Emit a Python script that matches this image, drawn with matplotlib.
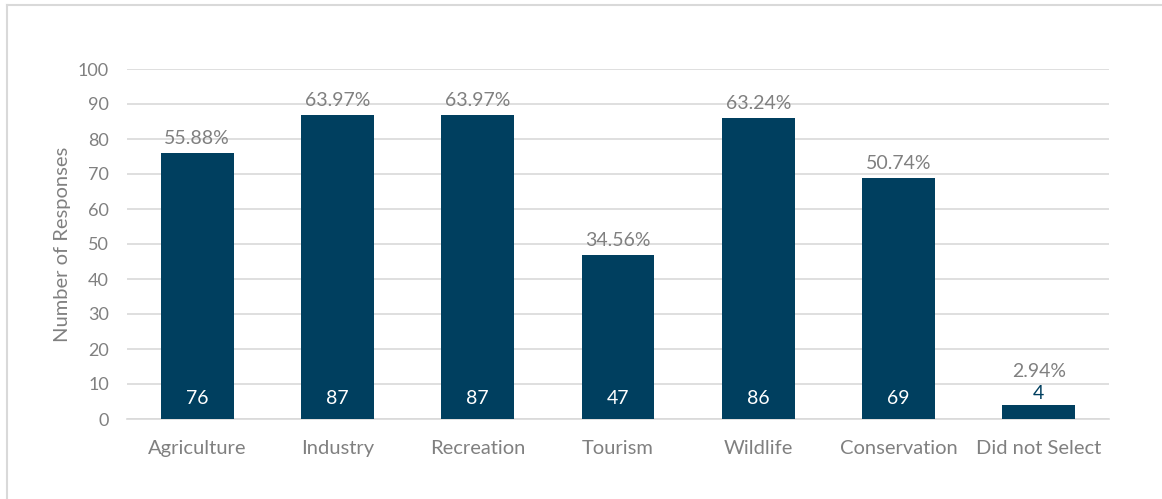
import matplotlib
matplotlib.use("Agg")
import matplotlib.pyplot as plt
from matplotlib.lines import Line2D

categories = ["Agriculture", "Industry", "Recreation", "Tourism", "Wildlife", "Conservation", "Did not Select"]
counts = [76, 87, 87, 47, 86, 69, 4]
percents = ["55.88%", "63.97%", "63.97%", "34.56%", "63.24%", "50.74%", "2.94%"]
yticks = list(range(0, 101, 10))

plt.rcParams['font.family'] = ['Lato', 'DejaVu Sans']

bar_color = "#003F5F"
gray = "#808080"
grid_color = "#D9D9D9"

fig = plt.figure(figsize=(11.62, 4.99), dpi=100)
ax = fig.add_axes([127/1162, 1-419/499, (1109-127)/1162, (419-69)/499])

x = list(range(len(categories)))
bars = ax.bar(x, counts, width=0.52, color=bar_color, zorder=3)
ax.set_xlim(-0.5, len(categories)-0.5)
ax.set_ylim(0, 100)
ax.set_yticks(yticks)
ax.yaxis.grid(True, color=grid_color, linewidth=1.2, zorder=0)
ax.set_axisbelow(True)
for s in ['top', 'right', 'left']:
    ax.spines[s].set_visible(False)
ax.spines['bottom'].set_color(grid_color)
ax.spines['bottom'].set_linewidth(1.2)
ax.tick_params(axis='both', length=0, colors=gray, labelsize=13)
ax.tick_params(axis='x', pad=15, labelsize=14.5)
ax.tick_params(axis='y', pad=13)
ax.set_xticks(x)
ax.set_xticklabels(categories)
ax.set_ylabel("Number of Responses", color=gray, fontsize=14.5, labelpad=5)

for xi, c, p in zip(x, counts, percents):
    if c >= 10:
        ax.text(xi, 6.0, str(c), ha='center', va='center', color='white', fontsize=14, zorder=4)
        ax.text(xi, c + 1.6, p, ha='center', va='bottom', color=gray, fontsize=14, zorder=4)
    else:
        ax.text(xi, c + 0.8, str(c), ha='center', va='bottom', color=bar_color, fontsize=14, zorder=4)
        ax.text(xi, c + 7.2, p, ha='center', va='bottom', color=gray, fontsize=14, zorder=4)

# outer border
fig.add_artist(Line2D([7/1162, 7/1162], [0, 1-5/499], transform=fig.transFigure, color="#D9D9D9", lw=1.5))
fig.add_artist(Line2D([7/1162, 1], [1-5/499, 1-5/499], transform=fig.transFigure, color="#D9D9D9", lw=1.5))

fig.savefig("out.png", dpi=100, facecolor="white")
